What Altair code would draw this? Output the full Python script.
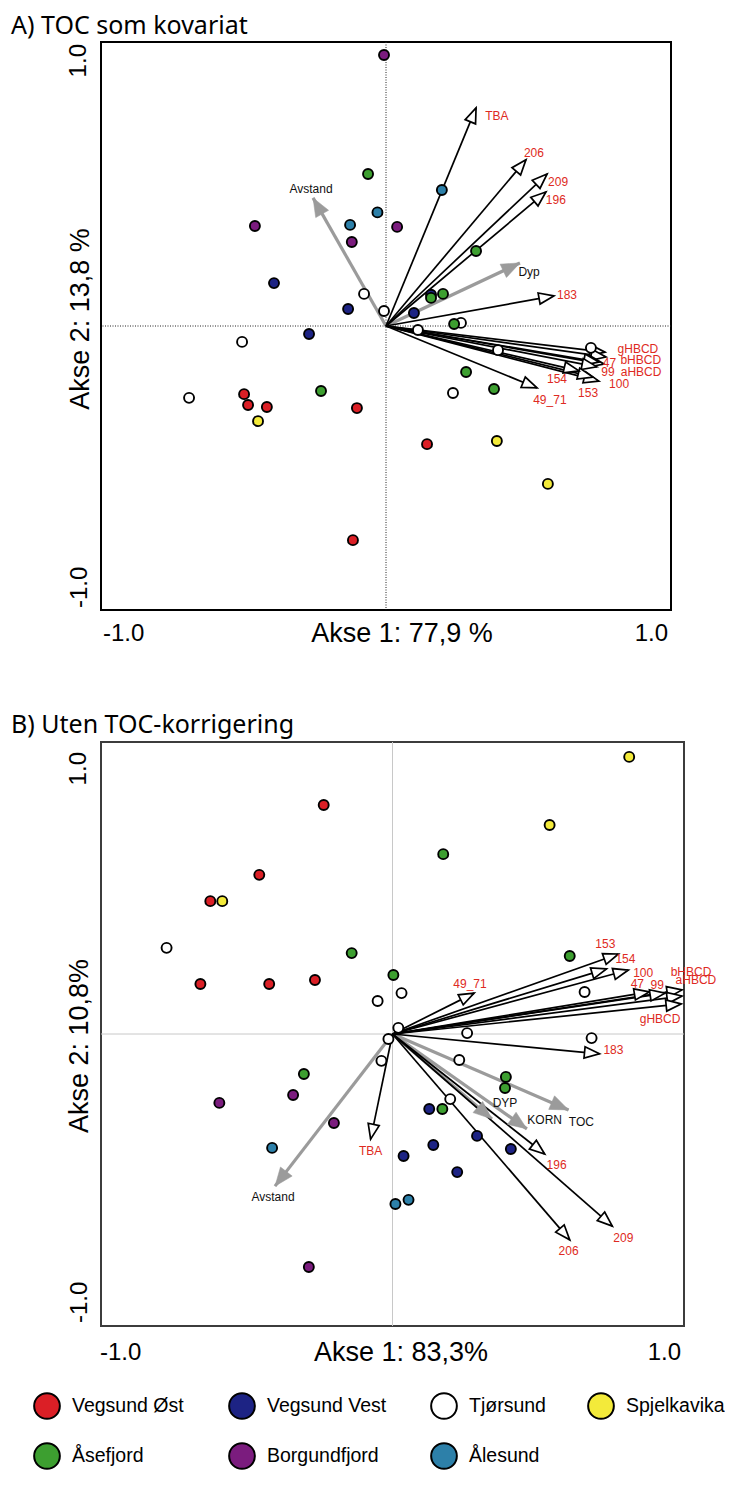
import altair as alt
import pandas as pd

# ---------------- data ----------------
SITE_CODES = ["VO", "VV", "TJ", "SP", "AS", "BO", "AL"]
SITE_NAMES = ["Vegsund Øst", "Vegsund Vest", "Tjørsund", "Spjelkavika",
              "Åsefjord", "Borgundfjord", "Ålesund"]
SITE_COLORS = ["#db1f26", "#1d2384", "#ffffff", "#f3ea3a", "#3d9f30", "#7b1c7e", "#2d80a9"]

# Panel A: site scores
a_pt_site = ["BO", "AS", "AL", "AL", "BO", "BO", "AL", "BO", "VV", "TJ", "VV", "AS", "TJ", "VV",
             "VV", "AS", "AS", "TJ", "AS", "TJ", "VV", "TJ", "VO", "VO", "VO", "SP", "AS", "VO",
             "VO", "TJ", "TJ", "TJ", "AS", "TJ", "AS", "VO", "SP", "SP"]
a_pt_x = [-0.007, -0.063, -0.030, -0.126, -0.460, -0.120, 0.196, 0.039, -0.393, -0.077, -0.133,
          0.316, -0.007, 0.098, 0.158, 0.158, 0.200, 0.263, 0.239, -0.505, -0.270, -0.691, -0.498,
          -0.484, -0.418, -0.449, -0.228, -0.102, -0.116, 0.112, 0.393, 0.719, 0.281, 0.235, 0.379,
          0.144, 0.389, 0.568]
a_pt_y = [0.954, 0.535, 0.400, 0.356, 0.352, 0.296, 0.479, 0.349, 0.151, 0.113, 0.060, 0.264,
          0.053, 0.046, 0.110, 0.099, 0.113, 0.011, 0.007, -0.056, -0.028, -0.253, -0.240, -0.278,
          -0.285, -0.335, -0.229, -0.289, -0.754, -0.014, -0.085, -0.077, -0.162, -0.236, -0.222,
          -0.416, -0.405, -0.556]

# Panel A: response variable arrows
a_var = ["TBA", "206", "209", "196", "183", "gHBCD", "bHBCD", "aHBCD", "47", "99", "100", "153",
         "154", "49_71"]
a_vx = [0.316, 0.491, 0.565, 0.561, 0.589, 0.768, 0.772, 0.765, 0.747, 0.740, 0.747, 0.726, 0.677, 0.530]
a_vy = [0.768, 0.585, 0.535, 0.472, 0.106, -0.092, -0.109, -0.134, -0.127, -0.144, -0.194, -0.180,
        -0.158, -0.218]
a_lx = [0.389, 0.519, 0.604, 0.596, 0.635, 0.884, 0.894, 0.895, 0.784, 0.779, 0.818, 0.709, 0.600, 0.575]
a_ly = [0.739, 0.609, 0.507, 0.444, 0.109, -0.081, -0.118, -0.162, -0.131, -0.162, -0.204, -0.236,
        -0.187, -0.261]
# Panel A: explanatory variable arrows
a_env = ["Avstand", "Dyp"]
a_ex = [-0.256, 0.470]
a_ey = [0.451, 0.222]
a_elx = [-0.263, 0.502]
a_ely = [0.482, 0.190]

# Panel B: site scores
b_pt_site = ["VO", "VO", "VO", "SP", "TJ", "AS", "VO", "VO", "VO", "TJ", "SP", "SP", "AS", "AS",
             "AS", "TJ", "TJ", "TJ", "TJ", "TJ", "TJ", "AS", "AS", "TJ", "VV", "AS", "VV", "VV",
             "VV", "VV", "VV", "AL", "AL", "TJ", "TJ", "AS", "BO", "BO", "BO", "AL", "BO"]
b_pt_x = [-0.236, -0.457, -0.625, -0.584, -0.775, -0.140, -0.659, -0.423, -0.266, -0.051, 0.812,
          0.539, 0.174, 0.608, 0.003, 0.031, 0.659, 0.020, 0.256, 0.683, 0.229, 0.389, 0.386, 0.198,
          0.126, 0.171, 0.290, 0.140, 0.406, 0.038, 0.222, 0.010, 0.055, -0.038, -0.014, -0.304,
          -0.341, -0.594, -0.201, -0.413, -0.287]
b_pt_y = [0.784, 0.545, 0.455, 0.455, 0.295, 0.277, 0.171, 0.171, 0.185, 0.113, 0.949, 0.716,
          0.616, 0.267, 0.202, 0.140, 0.144, 0.021, 0.003, -0.014, -0.089, -0.147, -0.185, -0.223,
          -0.257, -0.257, -0.349, -0.380, -0.394, -0.418, -0.473, -0.582, -0.568, -0.092, -0.017,
          -0.137, -0.209, -0.236, -0.305, -0.390, -0.798]

b_var = ["TBA", "183", "196", "209", "206", "49_71", "153", "154", "100", "47", "99", "bHBCD",
         "aHBCD", "gHBCD"]
b_vx = [-0.075, 0.710, 0.522, 0.754, 0.608, 0.280, 0.775, 0.734, 0.809, 0.881, 0.935, 0.993, 0.993, 0.990]
b_vy = [-0.360, -0.068, -0.411, -0.658, -0.705, 0.140, 0.274, 0.223, 0.219, 0.144, 0.140, 0.151,
        0.130, 0.103]
b_lx = [-0.075, 0.758, 0.563, 0.792, 0.604, 0.266, 0.730, 0.799, 0.860, 0.840, 0.908, 1.024, 1.041, 0.918]
b_ly = [-0.401, -0.055, -0.449, -0.699, -0.743, 0.171, 0.308, 0.257, 0.209, 0.171, 0.168, 0.212,
        0.186, 0.051]
b_env = ["Avstand", "DYP", "KORN", "TOC"]
b_ex = [-0.403, 0.341, 0.461, 0.604]
b_ey = [-0.521, -0.291, -0.325, -0.260]
b_elx = [-0.410, 0.386, 0.522, 0.648]
b_ely = [-0.558, -0.236, -0.295, -0.301]

AXIS_TICKS = [-1, -0.5, 0, 0.5, 1]

# ---------------- styles ----------------
TITLE_FONT = "Noto Sans"
AX_FONT = "Liberation Sans"
LBL_FONT = "Liberation Sans"
RED_TXT = "#de2a22"
GRAY = "#9b9b9b"
HEAD = "M0,0L-0.75,2L0.75,2Z"
HEAD_G = "M0,0L-0.8,2L0.8,2Z"

site_scale = alt.Scale(domain=SITE_CODES, range=SITE_COLORS)


def txt(s, x, y, size, font, align="center", baseline="middle", angle=None, color="black"):
    kw = dict(align=align, baseline=baseline, fontSize=size, font=font, color=color)
    if angle is not None:
        kw["angle"] = angle
    return alt.Chart(pd.DataFrame({"t": [s]})).mark_text(**kw).encode(
        x=alt.value(x), y=alt.value(y), text="t:N")


def panel(pts, arr, env, w, h, frame_col, center_style, title, xlab, ylab, dec):
    xs = alt.Scale(domain=[-1, 1], nice=False, zero=False)
    ys = alt.Scale(domain=[-1, 1], nice=False, zero=False)
    ax = alt.Axis(values=AXIS_TICKS, labels=False, title=None, domain=False, grid=False,
                  tickColor=frame_col, tickWidth=2, tickSize=5)
    one = pd.DataFrame({"v": [0]})

    vline = alt.Chart(one).mark_rule(**center_style).encode(
        x=alt.X("v:Q", scale=xs, axis=ax))
    hline = alt.Chart(one).mark_rule(**center_style).encode(
        y=alt.Y("v:Q", scale=ys, axis=ax))

    arr_df = pd.DataFrame(arr)
    env_df = pd.DataFrame(env)
    ang = "(atan2(datum.vx, datum.vy) * 180 / PI + 360) % 360"

    def lines(df, color, width):
        return alt.Chart(df).transform_calculate(x0="0", y0="0").mark_rule(
            color=color, strokeWidth=width).encode(
            x=alt.X("x0:Q", scale=xs, axis=None), y=alt.Y("y0:Q", scale=ys, axis=None),
            x2="vx:Q", y2="vy:Q")

    def heads(df, shape, size, fill, stroke, sw):
        return alt.Chart(df).transform_calculate(ang=ang).mark_point(
            shape=shape, size=size, filled=True, fill=fill, stroke=stroke, strokeWidth=sw,
            opacity=1).encode(
            x=alt.X("vx:Q", scale=xs, axis=None), y=alt.Y("vy:Q", scale=ys, axis=None),
            angle=alt.Angle("ang:Q", scale=None))

    env_lines = lines(env_df, GRAY, 3.2)
    env_heads = heads(env_df, HEAD_G, 340, GRAY, GRAY, 0.5)
    arr_lines = lines(arr_df, "black", 1.7)
    arr_heads = heads(arr_df, HEAD, 225, "white", "black", 1.7)

    points = alt.Chart(pd.DataFrame(pts)).mark_point(
        shape="circle", filled=True, size=100, stroke="black", strokeWidth=1.9, opacity=1).encode(
        x=alt.X("x:Q", scale=xs, axis=None), y=alt.Y("y:Q", scale=ys, axis=None),
        fill=alt.Fill("site:N", scale=site_scale, legend=None))

    arr_lbl = alt.Chart(arr_df).mark_text(color=RED_TXT, fontSize=12, font=LBL_FONT).encode(
        x=alt.X("lx:Q", scale=xs, axis=None), y=alt.Y("ly:Q", scale=ys, axis=None), text="name:N")
    env_lbl = alt.Chart(env_df).mark_text(color="#111111", fontSize=12, font=LBL_FONT).encode(
        x=alt.X("lx:Q", scale=xs, axis=None), y=alt.Y("ly:Q", scale=ys, axis=None), text="name:N")

    anchor = alt.Chart(one).mark_rule(strokeOpacity=0, strokeWidth=1).encode(
        x=alt.value(dec["anchor"][0]), x2=alt.value(dec["anchor"][0] + 1),
        y=alt.value(dec["anchor"][1]), y2=alt.value(dec["anchor"][1]))

    decor = [
        txt(title, -90, dec["title_y"], 25, TITLE_FONT, align="left", baseline="alphabetic"),
        txt(xlab, dec["xlab"][0], dec["xlab"][1], 27, AX_FONT),
        txt("-1.0", dec["xmin"][0], dec["xmin"][1], 24, AX_FONT, align="left"),
        txt("1.0", dec["xmax"][0], dec["xmax"][1], 24, AX_FONT, align="right"),
        txt(ylab, dec["ylab"][0], dec["ylab"][1], 27, AX_FONT, angle=270),
        txt("1.0", dec["ymax"][0], dec["ymax"][1], 24, AX_FONT, align="right", angle=270),
        txt("-1.0", dec["ymin"][0], dec["ymin"][1], 24, AX_FONT, align="left", angle=270),
    ]

    return alt.layer(vline, hline, env_lines, arr_lines, env_heads, arr_heads, points,
                     arr_lbl, env_lbl, anchor, *decor).properties(
        width=w, height=h,
        view=alt.ViewBackground(stroke=frame_col, strokeWidth=2, fill="white"))


chart_a = panel(
    dict(site=a_pt_site, x=a_pt_x, y=a_pt_y),
    dict(name=a_var, vx=a_vx, vy=a_vy, lx=a_lx, ly=a_ly),
    dict(name=a_env, vx=a_ex, vy=a_ey, lx=a_elx, ly=a_ely),
    570, 568, "black", dict(color="#222222", strokeWidth=1, strokeDash=[1, 1.5]),
    "A) TOC som kovariat", "Akse 1: 77,9 %", "Akse 2: 13,8 %",
    dict(anchor=(-92, -33), title_y=-8, xlab=(301, 592), xmin=(2, 592),
         xmax=(567, 592), ylab=(-20, 277), ymax=(-22, 2), ymin=(-21, 566)))

chart_b = panel(
    dict(site=b_pt_site, x=b_pt_x, y=b_pt_y),
    dict(name=b_var, vx=b_vx, vy=b_vy, lx=b_lx, ly=b_ly),
    dict(name=b_env, vx=b_ex, vy=b_ey, lx=b_elx, ly=b_ely),
    583, 584, "#3c3c3c", dict(color="#c8c8c8", strokeWidth=1),
    "B) Uten TOC-korrigering", "Akse 1: 83,3%", "Akse 2: 10,8%",
    dict(anchor=(-92, -30), title_y=-9, xlab=(300, 611), xmin=(-1, 611),
         xmax=(580, 611), ylab=(-21, 304), ymax=(-22, 10), ymin=(-21, 581)))

# ---------------- legend ----------------
leg_df = pd.DataFrame({"code": SITE_CODES, "name": SITE_NAMES, "i": list(range(len(SITE_CODES)))})
leg_x = alt.Scale(domain=[0, 1, 2, 3], range=[-54, 141, 343, 500])
leg_y = alt.Scale(domain=[0, 1], range=[-52, -2])
leg_base = alt.Chart(leg_df).transform_calculate(
    col="datum.i % 4", row="floor(datum.i / 4)")
leg_dots = leg_base.mark_point(shape="circle", filled=True, size=660, stroke="black",
                               strokeWidth=2, opacity=1).encode(
    x=alt.X("col:Q", scale=leg_x, axis=None), y=alt.Y("row:Q", scale=leg_y, axis=None),
    fill=alt.Fill("code:N", scale=site_scale, legend=None))
leg_text = leg_base.mark_text(align="left", baseline="middle", dx=25, fontSize=19.5,
                              font=AX_FONT, color="black").encode(
    x=alt.X("col:Q", scale=leg_x, axis=None), y=alt.Y("row:Q", scale=leg_y, axis=None),
    text="name:N")
legend = alt.layer(leg_dots, leg_text).properties(
    width=570, height=1, view=alt.ViewBackground(stroke=None))

chart = alt.vconcat(chart_a, chart_b, legend, spacing=132, bounds="flush").properties(
    padding=0, background="white")

chart.save("out.html", embed_options={"renderer": "svg", "actions": False})
